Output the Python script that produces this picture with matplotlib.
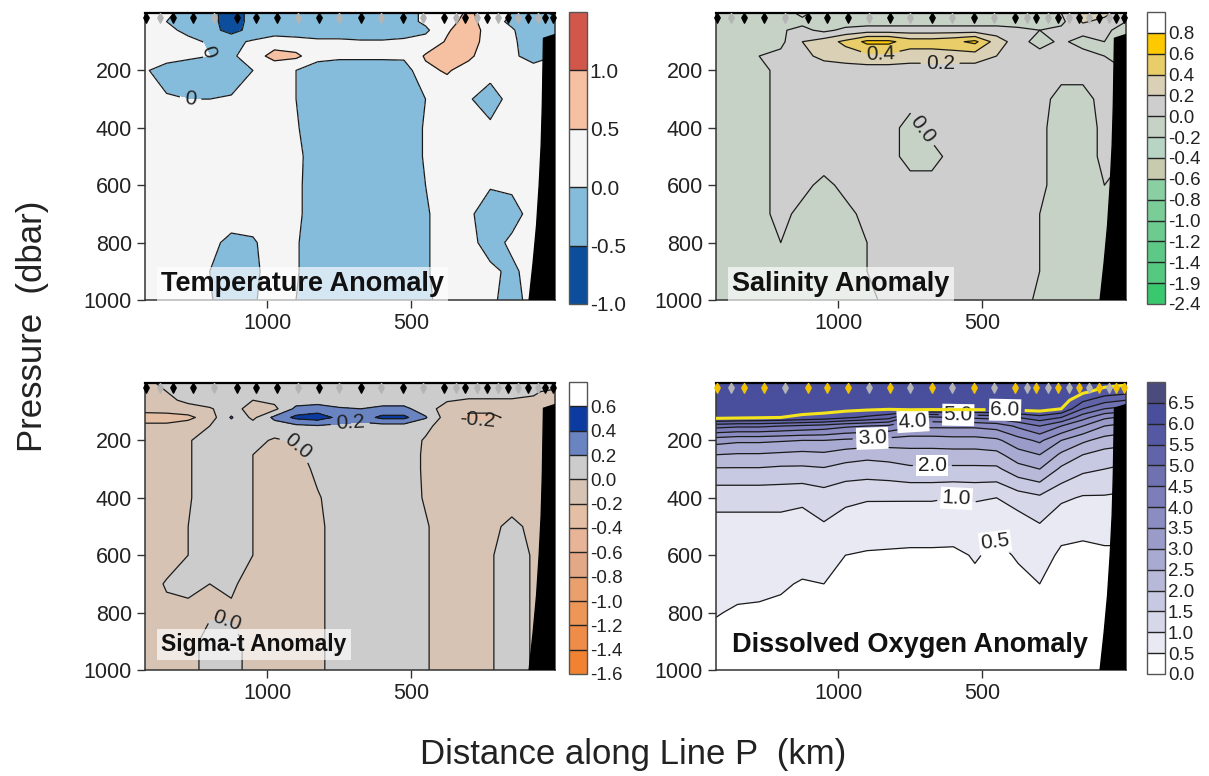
import matplotlib
matplotlib.use("Agg")
import matplotlib.pyplot as plt
import numpy as np

plt.rcParams['font.family'] = ['Liberation Sans', 'DejaVu Sans']
plt.rcParams['contour.negative_linestyle'] = 'solid'

# section grid: distance along Line P (km) and pressure (dbar)
dist = [1425, 1350, 1275, 1200, 1125, 1050, 975, 900, 825, 750,
        675, 600, 525, 450, 375, 300, 225, 150, 75, 0]
pres = [0, 30, 60, 100, 150, 200, 300, 400, 500, 600, 700, 800, 900, 1000]
pres_fine = [0, 30, 60, 90, 120, 150, 200, 250, 300, 400, 500, 600, 700, 800, 900, 1000]

# station positions (km), black/yellow and grey markers
stn_main = [1420, 1326, 1257, 1104, 1038, 965, 819, 674, 528, 385, 312, 236, 163, 94, 35, 7]
stn_grey = [1372, 1184, 892, 750, 604, 458, 344, 271, 198, 128, 59]

# shelf / slope outline
bathy_km = [0, 40, 42, 44, 48, 55, 64, 76, 90, 0]
bathy_p = [75, 88, 200, 320, 460, 600, 740, 870, 1000, 1000]

# temperature anomaly, rows = pres, cols = dist
temp = [
    [0.2, 0.1, -0.2, -0.3, -0.8, -0.3, -0.3, -0.3, -0.3, -0.3, -0.3, -0.3, -0.2, 0.1, 0.2, 0.6, 0.2, 0.0, -0.3, -0.6],
    [0.2, 0.0, -0.25, -0.3, -0.8, -0.3, -0.3, -0.3, -0.3, -0.3, -0.3, -0.3, -0.2, 0.1, 0.3, 0.7, 0.2, -0.1, -0.3, -0.3],
    [0.25, 0.1, -0.1, -0.3, -0.7, -0.3, -0.3, -0.3, -0.3, -0.3, -0.3, -0.3, -0.25, -0.1, 0.45, 0.75, 0.3, 0.05, -0.3, -0.3],
    [0.25, 0.2, 0.1, -0.05, -0.1, 0.05, 0.3, 0.2, 0.1, 0.1, 0.05, 0.05, 0.1, 0.2, 0.55, 0.7, 0.3, 0.1, -0.3, -0.2],
    [0.25, 0.2, 0.1, 0.0, -0.1, 0.3, 0.65, 0.6, 0.2, 0.1, 0.1, 0.1, 0.1, 0.55, 0.75, 0.6, 0.2, 0.1, -0.2, 0.0],
    [0.05, -0.2, -0.3, -0.3, -0.3, 0.0, 0.2, 0.0, -0.3, -0.3, -0.3, -0.3, -0.25, 0.4, 0.55, 0.3, 0.2, 0.2, 0.2, 0.2],
    [0.2, 0.05, 0.0, 0.0, 0.05, 0.2, 0.2, 0.0, -0.3, -0.3, -0.3, -0.3, -0.3, 0.0, 0.2, 0.05, -0.25, 0.2, 0.2, 0.2],
    [0.2, 0.2, 0.2, 0.2, 0.2, 0.2, 0.2, 0.05, -0.3, -0.3, -0.3, -0.3, -0.3, 0.05, 0.2, 0.2, 0.1, 0.2, 0.2, 0.2],
    [0.2, 0.2, 0.2, 0.2, 0.2, 0.2, 0.2, 0.1, -0.2, -0.3, -0.3, -0.3, -0.3, 0.05, 0.2, 0.2, 0.2, 0.2, 0.2, 0.2],
    [0.2, 0.2, 0.2, 0.2, 0.2, 0.2, 0.2, 0.1, -0.25, -0.3, -0.3, -0.3, -0.3, 0.0, 0.2, 0.2, 0.05, 0.1, 0.2, 0.2],
    [0.2, 0.2, 0.2, 0.2, 0.2, 0.2, 0.2, 0.1, -0.25, -0.3, -0.3, -0.3, -0.3, -0.05, 0.2, 0.1, -0.3, -0.2, 0.2, 0.2],
    [0.2, 0.2, 0.2, 0.1, -0.1, -0.05, 0.2, 0.05, -0.3, -0.3, -0.3, -0.3, -0.3, -0.05, 0.2, 0.15, -0.2, 0.1, 0.2, 0.2],
    [0.2, 0.2, 0.2, 0.0, -0.3, -0.1, 0.2, 0.05, -0.3, -0.3, -0.3, -0.3, -0.3, -0.05, 0.2, 0.2, 0.1, -0.1, 0.2, 0.2],
    [0.2, 0.2, 0.2, 0.05, -0.3, -0.05, 0.2, 0.0, -0.3, -0.3, -0.3, -0.3, -0.3, -0.1, 0.2, 0.2, 0.1, -0.2, 0.2, 0.2],
]

# salinity anomaly, rows = pres
sal = [
    [-0.1, -0.1, -0.1, -0.1, 0.05, -0.1, -0.1, -0.1, -0.1, -0.1, -0.1, -0.1, -0.1, -0.1, -0.1, -0.1, 0.0, 0.25, 0.25, 0.1],
    [-0.1, -0.1, -0.1, -0.1, -0.05, -0.1, -0.1, -0.1, -0.1, -0.1, -0.1, -0.1, -0.1, -0.1, -0.1, -0.1, -0.05, 0.22, 0.15, 0.0],
    [-0.05, -0.05, -0.05, -0.02, 0.05, -0.05, 0.05, 0.1, 0.1, 0.1, 0.1, 0.1, 0.1, 0.1, 0.05, 0.0, 0.05, 0.1, 0.05, -0.1],
    [-0.1, -0.1, -0.1, -0.05, 0.2, 0.3, 0.45, 0.65, 0.65, 0.5, 0.5, 0.55, 0.65, 0.3, 0.1, -0.1, 0.05, -0.1, 0.0, -0.1],
    [-0.05, -0.05, 0.0, 0.05, 0.15, 0.25, 0.3, 0.35, 0.35, 0.3, 0.3, 0.3, 0.3, 0.2, 0.1, 0.1, 0.05, 0.1, 0.0, 0.0],
    [-0.1, -0.1, -0.05, 0.05, 0.1, 0.1, 0.1, 0.1, 0.1, 0.1, 0.1, 0.1, 0.1, 0.1, 0.1, 0.1, 0.05, 0.05, 0.05, 0.0],
    [-0.1, -0.1, -0.05, 0.05, 0.1, 0.1, 0.1, 0.05, 0.05, 0.05, 0.05, 0.05, 0.05, 0.05, 0.1, 0.05, -0.05, -0.05, 0.05, 0.0],
    [-0.1, -0.1, -0.05, 0.05, 0.1, 0.1, 0.1, 0.05, 0.05, -0.05, 0.05, 0.05, 0.05, 0.05, 0.1, 0.05, -0.1, -0.1, 0.05, 0.0],
    [-0.1, -0.1, -0.05, 0.05, 0.1, 0.1, 0.1, 0.05, 0.05, -0.05, -0.05, 0.05, 0.05, 0.05, 0.1, 0.05, -0.1, -0.1, 0.05, 0.0],
    [-0.1, -0.1, -0.05, 0.05, 0.05, -0.05, 0.05, 0.05, 0.05, 0.05, 0.05, 0.05, 0.05, 0.05, 0.1, 0.05, -0.1, -0.1, 0.0, 0.0],
    [-0.1, -0.1, -0.05, 0.05, -0.05, -0.1, -0.05, 0.05, 0.05, 0.05, 0.05, 0.05, 0.05, 0.05, 0.1, 0.0, -0.1, -0.1, 0.0, 0.0],
    [-0.1, -0.1, -0.05, 0.0, -0.1, -0.1, -0.1, 0.0, 0.05, 0.05, 0.05, 0.05, 0.05, 0.05, 0.1, 0.0, -0.1, -0.1, 0.0, 0.0],
    [-0.1, -0.1, -0.05, 0.0, -0.1, -0.1, -0.1, 0.0, 0.05, 0.05, 0.05, 0.05, 0.05, 0.05, 0.1, 0.0, -0.1, -0.1, 0.0, 0.0],
    [-0.1, -0.1, -0.05, 0.0, -0.1, -0.1, -0.1, -0.05, 0.05, 0.05, 0.05, 0.05, 0.05, 0.05, 0.1, -0.05, -0.1, -0.1, 0.0, 0.0],
]

# sigma-t anomaly, rows = pres_fine
sig = [
    [-0.05, 0.05, 0.1, 0.1, 0.1, 0.1, 0.1, 0.1, 0.1, 0.1, 0.1, 0.1, 0.1, 0.1, 0.1, 0.1, 0.1, 0.1, 0.1, 0.25],
    [-0.1, 0.0, 0.1, 0.1, 0.1, 0.1, 0.1, 0.1, 0.1, 0.1, 0.1, 0.1, 0.1, 0.1, 0.1, 0.1, 0.1, 0.1, 0.05, -0.1],
    [-0.1, -0.05, 0.05, 0.1, 0.1, 0.0, 0.05, 0.1, 0.1, 0.1, 0.1, 0.1, 0.1, 0.1, 0.02, -0.02, -0.02, -0.02, -0.05, -0.1],
    [-0.12, -0.1, -0.08, -0.02, 0.1, -0.1, -0.05, 0.25, 0.3, 0.22, 0.2, 0.25, 0.25, 0.1, -0.1, -0.15, -0.15, -0.12, -0.1, -0.1],
    [-0.3, -0.3, -0.25, -0.1, 0.22, -0.05, 0.25, 0.45, 0.5, 0.35, 0.3, 0.45, 0.45, 0.22, -0.1, -0.25, -0.25, -0.15, -0.1, -0.1],
    [-0.15, -0.15, -0.1, 0.0, 0.1, 0.1, 0.1, 0.15, 0.18, 0.15, 0.12, 0.12, 0.12, 0.05, -0.1, -0.1, -0.1, -0.1, -0.1, -0.1],
    [-0.1, -0.1, -0.02, 0.1, 0.1, 0.05, -0.02, 0.02, 0.1, 0.1, 0.1, 0.1, 0.1, -0.02, -0.1, -0.1, -0.1, -0.1, -0.1, -0.1],
    [-0.1, -0.1, -0.02, 0.1, 0.1, 0.0, -0.1, -0.05, 0.08, 0.1, 0.1, 0.1, 0.1, -0.03, -0.1, -0.1, -0.1, -0.1, -0.1, -0.1],
    [-0.1, -0.1, -0.02, 0.1, 0.1, 0.0, -0.1, -0.1, 0.05, 0.1, 0.1, 0.1, 0.1, -0.03, -0.1, -0.1, -0.1, -0.1, -0.1, -0.1],
    [-0.1, -0.1, -0.02, 0.1, 0.1, 0.0, -0.1, -0.1, -0.02, 0.1, 0.1, 0.1, 0.1, -0.02, -0.1, -0.1, -0.1, -0.1, -0.1, -0.1],
    [-0.1, -0.1, 0.0, 0.1, 0.1, 0.0, -0.1, -0.1, -0.05, 0.1, 0.1, 0.1, 0.1, 0.02, -0.1, -0.1, -0.05, 0.05, -0.05, -0.1],
    [-0.1, -0.1, 0.0, 0.1, 0.1, 0.0, -0.1, -0.1, -0.05, 0.1, 0.1, 0.1, 0.1, 0.02, -0.1, -0.1, -0.02, 0.1, -0.02, -0.1],
    [-0.1, 0.02, 0.05, 0.0, 0.02, -0.05, -0.1, -0.1, -0.05, 0.1, 0.1, 0.1, 0.1, 0.02, -0.1, -0.1, -0.02, 0.1, -0.02, -0.1],
    [-0.1, -0.05, -0.05, -0.02, -0.02, -0.1, -0.1, -0.1, -0.05, 0.1, 0.1, 0.1, 0.1, 0.02, -0.1, -0.1, -0.02, 0.1, -0.02, -0.1],
    [-0.1, -0.1, -0.05, 0.05, 0.05, -0.05, -0.1, -0.1, -0.05, 0.1, 0.1, 0.1, 0.1, 0.02, -0.1, -0.1, -0.02, 0.1, -0.02, -0.1],
    [-0.1, -0.1, -0.05, 0.05, 0.05, -0.05, -0.1, -0.1, -0.05, 0.1, 0.1, 0.1, 0.1, 0.02, -0.1, -0.1, -0.02, 0.1, -0.02, -0.1],
]

# dissolved oxygen, one profile (pres_fine) per station column
oxy_profiles = [
    [6.3, 6.3, 6.3, 6.3, 6.15, 4.7, 3.2, 2.5, 1.95, 1.15, 0.85, 0.68, 0.58, 0.51, 0.45, 0.4],
    [6.3, 6.3, 6.3, 6.3, 6.1, 4.6, 3.1, 2.45, 1.95, 1.15, 0.85, 0.67, 0.55, 0.48, 0.42, 0.38],
    [6.3, 6.3, 6.3, 6.25, 6.05, 4.6, 3.1, 2.45, 1.95, 1.15, 0.85, 0.66, 0.55, 0.47, 0.41, 0.37],
    [6.3, 6.3, 6.3, 6.25, 6.0, 4.5, 3.05, 2.4, 1.9, 1.15, 0.85, 0.65, 0.53, 0.45, 0.4, 0.36],
    [6.3, 6.3, 6.3, 6.2, 5.9, 4.4, 3.0, 2.35, 1.9, 1.1, 0.8, 0.6, 0.48, 0.4, 0.35, 0.32],
    [6.3, 6.3, 6.3, 6.2, 5.8, 4.3, 3.0, 2.4, 1.95, 1.25, 0.95, 0.62, 0.5, 0.4, 0.35, 0.32],
    [6.3, 6.3, 6.3, 6.15, 5.6, 4.1, 2.9, 2.25, 1.8, 1.1, 0.8, 0.5, 0.42, 0.36, 0.32, 0.3],
    [6.3, 6.3, 6.3, 6.1, 5.4, 4.0, 2.85, 2.15, 1.75, 1.05, 0.66, 0.47, 0.4, 0.35, 0.31, 0.29],
    [6.3, 6.3, 6.3, 6.05, 5.2, 3.9, 2.8, 2.2, 1.8, 1.05, 0.65, 0.46, 0.4, 0.35, 0.31, 0.29],
    [6.3, 6.3, 6.3, 6.2, 4.3, 3.6, 2.75, 2.3, 1.9, 1.05, 0.64, 0.45, 0.38, 0.34, 0.3, 0.28],
    [6.3, 6.3, 6.3, 6.15, 4.4, 3.6, 2.75, 2.3, 1.9, 1.05, 0.64, 0.45, 0.38, 0.34, 0.3, 0.28],
    [6.3, 6.3, 6.3, 6.15, 4.5, 3.6, 2.8, 2.3, 1.9, 1.0, 0.62, 0.45, 0.38, 0.34, 0.3, 0.28],
    [6.3, 6.3, 6.3, 6.15, 4.6, 3.6, 2.8, 2.3, 1.9, 1.05, 0.7, 0.52, 0.45, 0.38, 0.33, 0.3],
    [6.3, 6.3, 6.3, 6.15, 4.7, 3.7, 2.9, 2.35, 1.9, 1.0, 0.55, 0.45, 0.38, 0.34, 0.3, 0.28],
    [6.3, 6.3, 6.3, 6.2, 5.0, 4.1, 3.3, 2.8, 2.3, 1.25, 0.7, 0.52, 0.45, 0.38, 0.33, 0.3],
    [6.3, 6.3, 6.3, 6.25, 5.3, 4.5, 3.6, 3.0, 2.5, 1.4, 0.95, 0.62, 0.5, 0.4, 0.35, 0.32],
    [6.3, 6.3, 6.25, 6.0, 5.0, 4.0, 3.0, 2.4, 1.9, 1.1, 0.6, 0.45, 0.38, 0.34, 0.3, 0.28],
    [6.3, 6.1, 5.6, 5.0, 4.2, 3.5, 2.6, 2.0, 1.6, 0.95, 0.55, 0.45, 0.38, 0.34, 0.3, 0.28],
    [6.2, 5.8, 5.2, 4.5, 3.6, 3.0, 2.3, 1.8, 1.5, 0.95, 0.6, 0.45, 0.38, 0.34, 0.3, 0.28],
    [6.1, 5.7, 5.0, 4.3, 3.4, 2.8, 2.2, 1.7, 1.4, 0.9, 0.6, 0.45, 0.38, 0.34, 0.3, 0.28],
]

temp_levels = [-1.0, -0.5, 0.0, 0.5, 1.0, 1.5]
temp_colors = ['#0c4e9b', '#86bcdb', '#f5f5f5', '#f6c0a2', '#d1574b']
sal_levels = [-2.4, -1.9, -1.4, -1.2, -1.0, -0.8, -0.6, -0.4, -0.2, 0.0, 0.2, 0.4, 0.6, 0.8, 1.0]
sal_colors = ['#3ac86e', '#55c97f', '#5ec986', '#6dcb90', '#7bcd98', '#89cfa2', '#c9cbae',
              '#b8d4c4', '#c7d2c7', '#cecece', '#d9d0b5', '#e8cd68', '#ffc900', '#ffffff']
sig_levels = [-1.6, -1.4, -1.2, -1.0, -0.8, -0.6, -0.4, -0.2, 0.0, 0.2, 0.4, 0.6, 0.8]
sig_colors = ['#f08232', '#ef8c47', '#ec9658', '#e9a06d', '#e3a986', '#e8b497', '#e4bfa5',
              '#d6c3b3', '#cccccc', '#6a84c2', '#0b3aa0', '#ffffff']
oxy_levels = [0.0, 0.5, 1.0, 1.5, 2.0, 2.5, 3.0, 3.5, 4.0, 4.5, 5.0, 5.5, 6.0, 6.5, 7.0]
oxy_colors = ['#ffffff', '#e9e9f3', '#d7d7ea', '#c7c8e1', '#b8b9d9', '#a9aad1', '#9a9bc9',
              '#8b8cc1', '#7d7eb9', '#6f71b1', '#6264a9', '#5558a3', '#4a4f9d', '#4b4b7d']

W, H = 1209.0, 776.0


def rect(l, t, r, b):
    return [l / W, 1 - b / H, (r - l) / W, (b - t) / H]


fig = plt.figure(figsize=(12.09, 7.76), dpi=100)

pin = [(0, 0), (0.28, -0.45), (0, -1), (-0.28, -0.45), (0, 0)]


def section(axr, caxr, Z, p, levels, colors, title, tsize, ty, mark_col, cb_size,
            lab_levels, lab_pos, fmt, lab_box=False, tbox=True, skip=()):
    ax = fig.add_axes(axr)
    X, Y = np.meshgrid(dist, p)
    Z = np.array(Z)
    cf = ax.contourf(X, Y, Z, levels=levels, colors=colors)
    plain = [v for v in levels if v not in lab_levels and v not in skip]
    ax.contour(X, Y, Z, levels=plain, colors='#1a1a1a', linewidths=0.9)
    cl = ax.contour(X, Y, Z, levels=sorted(lab_levels), colors='#1a1a1a', linewidths=0.9)
    lbl = ax.clabel(cl, manual=lab_pos, fmt=fmt, fontsize=15, inline=True,
                    colors='#222222')
    if lab_box:
        for t in lbl:
            t.set_bbox(dict(facecolor='white', edgecolor='none', pad=1))
    ax.fill(bathy_km, bathy_p, color='k', zorder=3)
    ax.set_xlim(1425, 0)
    ax.set_ylim(1000, 0)
    ax.set_xticks([1000, 500])
    ax.set_yticks([200, 400, 600, 800, 1000])
    ax.tick_params(labelsize=15.5, length=6, width=1, colors='#333333', labelcolor='#222222')
    for s in ax.spines.values():
        s.set_color('#333333')
        s.set_linewidth(1.1)
    ax.spines['top'].set_color('k')
    ax.spines['top'].set_linewidth(1.6)
    ax.plot(stn_grey, [0] * len(stn_grey), ls='none', marker=pin, ms=14,
            color='#b4b4b4', clip_on=False, zorder=6)
    ax.plot(stn_main, [0] * len(stn_main), ls='none', marker=pin, ms=14,
            color=mark_col, clip_on=False, zorder=6)
    bb = dict(facecolor='white', alpha=0.65, edgecolor='none', pad=3) if tbox else None
    ax.text(0.04, ty, title, transform=ax.transAxes, fontsize=tsize,
            fontweight='bold', color='#111111', bbox=bb, zorder=7)

    cax = fig.add_axes(caxr)
    cb = fig.colorbar(cf, cax=cax, ticks=levels[:-1], drawedges=True)
    cb.ax.set_yticklabels(['%.1f' % v for v in levels[:-1]])
    cb.ax.tick_params(length=0, labelsize=cb_size, pad=2, labelcolor='#222222')
    cb.outline.set_edgecolor('#555555')
    cb.outline.set_linewidth(1.0)
    cb.dividers.set_color('#222222')
    cb.dividers.set_linewidth(1.0)
    return ax, X, Y, Z


section(rect(145, 13, 555, 300), rect(569, 12, 587, 304), temp, pres,
        temp_levels, temp_colors, "Temperature Anomaly", 19.5, 0.03, 'k', 15,
        [0.0], [(1156, 111), (1267, 293)], '%g')

section(rect(716, 13, 1126, 300), rect(1147, 12, 1165, 304), sal, pres,
        sal_levels, sal_colors, "Salinity Anomaly", 19.5, 0.03, 'k', 13.5,
        [0.0, 0.2, 0.4], [(854, 118), (646, 164), (733, 425)], '%.1f')

section(rect(145, 383, 555, 670), rect(569, 382, 587, 674), sig, pres_fine,
        sig_levels, sig_colors, "Sigma-t Anomaly", 16.5, 0.066, 'k', 13.5,
        [-0.2, 0.0, 0.2], [(711, 150), (910, 233), (271, 118), (1142, 808)], '%.1f')

oxy = np.array(oxy_profiles).T
ax, X, Y, Z = section(rect(716, 383, 1126, 670), rect(1147, 382, 1165, 674), oxy, pres_fine,
                      oxy_levels, oxy_colors, "Dissolved Oxygen Anomaly", 19.5, 0.063,
                      '#f2c100', 13.5, [0.5, 1.0, 2.0, 3.0, 4.0, 5.0],
                      [(583, 108), (740, 122), (882, 192), (673, 292), (594, 428), (472, 536)],
                      '%.1f', lab_box=True, tbox=False, skip=(6.0,))
ys = ax.contour(X, Y, Z, levels=[6.0], colors='#f4e41c', linewidths=2.2, zorder=4)
yl = ax.clabel(ys, manual=[(420, 84)], fmt='%.1f', fontsize=15,
               inline=True, colors='#222222')
for t in yl:
    t.set_bbox(dict(facecolor='white', edgecolor='none', pad=1))

fig.text(0.027, 0.58, "Pressure  (dbar)", rotation=90, fontsize=25,
         ha='center', va='center', color='#222222')
fig.text(0.524, 0.028, "Distance along Line P  (km)", fontsize=25,
         ha='center', va='center', color='#222222')

fig.savefig("out.png", dpi=100)
